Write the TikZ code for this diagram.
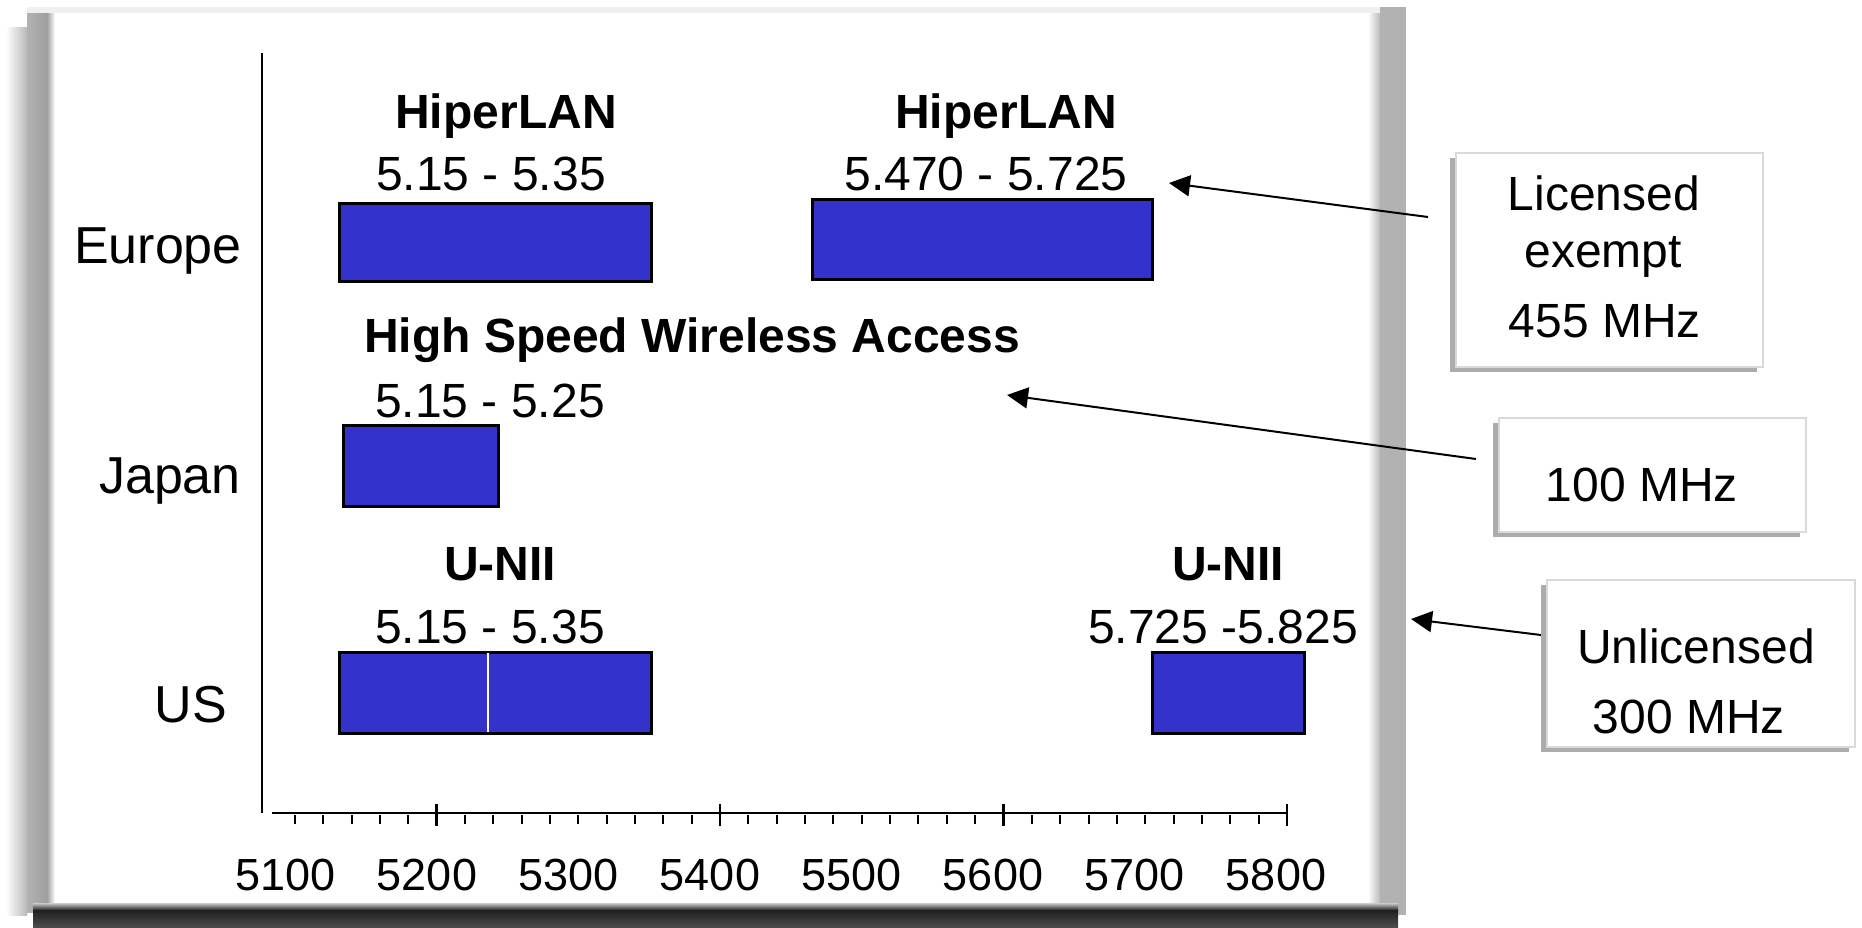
\documentclass[tikz,border=0pt]{standalone}
\usepackage{fontspec}
\setmainfont{Liberation Sans}
\usetikzlibrary{arrows.meta}
\definecolor{bandblue}{HTML}{3333CC}

\begin{document}
\begin{tikzpicture}[x=1pt,y=-1pt,
  bandbar/.style={draw=black, line width=3pt, fill=bandblue},
  axisline/.style={line width=2.5pt, black},
  rowlabel/.style={font=\fontsize{52}{60}\selectfont, anchor=base, inner sep=0pt},
  bandtitle/.style={font=\fontsize{48}{56}\selectfont\bfseries, anchor=base, inner sep=0pt},
  bandrange/.style={font=\fontsize{48}{56}\selectfont, anchor=base, inner sep=0pt},
  ticklabel/.style={font=\fontsize{45}{54}\selectfont, anchor=base, inner sep=0pt},
  notebox/.style={draw=gray!30, line width=1.5pt, fill=white},
  noteshadow/.style={fill=gray!65},
  notetext/.style={font=\fontsize{48}{56}\selectfont, anchor=base, inner sep=0pt},
  pointer/.style={line width=2pt, -{Triangle[length=21pt,width=21pt]}},
]
\useasboundingbox (0,0) rectangle (1862,927);
\fill[white] (0,0) rectangle (1862,927);

% slide frame with its bevelled shadow
\shade[left color=white, right color=gray!55] (6,27) rectangle (27,915);
\shade[left color=gray!60, right color=gray!75] (27,7) rectangle (47,912);
\shade[left color=gray!75, right color=white] (47,13) rectangle (55,910);
\fill[gray!12] (27,7) rectangle (1380,13);
\shade[left color=white, right color=gray!55] (1368,13) rectangle (1380,910);
\fill[gray!60] (1380,7) rectangle (1406,915);
\shade[top color=gray!40, bottom color=black!85] (33,903) rectangle (1398,910);
\shade[top color=black!88, bottom color=black!70] (33,910) rectangle (1398,927);

% axes
\coordinate (ytop) at (262,53);
\coordinate (ybot) at (262,813);
\coordinate (xstart) at (272,813);
\coordinate (xend) at (1287,813);
\draw[axisline] (ytop) -- (ybot);
\draw[axisline] (xstart) -- (xend);
\foreach \k in {0,...,35}
  \draw[line width=2pt] ({295+28.34*\k},815) -- ++(0,9);
\foreach \k in {5,15,25,35}
  \draw[line width=2.5pt] ({295+28.34*\k},804) -- ++(0,22);
\foreach \v [count=\i from 0] in {5100,5200,...,5800}
  \node[ticklabel] (t\v) at ({285.5+141.5*\i},890) {\v};

% row labels
\node[rowlabel] (eu) at (158,263) {Europe};
\node[rowlabel] (jp) at (170,493) {Japan};
\node[rowlabel] (us) at (191,722) {US};

% frequency bands
\draw[bandbar] (339,203) rectangle (651,281);
\draw[bandbar] (812,199) rectangle (1152,279);
\draw[bandbar] (343,425) rectangle (498,506);
\draw[bandbar] (339,652) rectangle (651,733);
\draw[white, line width=2pt] (488,653) -- (488,732);
\draw[bandbar] (1152,652) rectangle (1304,733);

% band captions
\node[bandtitle] (hl1) at (506,128) {HiperLAN};
\node[bandrange] (r1) at (491,190) {5.15 - 5.35};
\node[bandtitle] (hl2) at (1006,128) {HiperLAN};
\node[bandrange] (r2) at (986,190) {5.470 - 5.725};
\node[bandtitle] (hs) at (692,352) {High Speed Wireless Access};
\node[bandrange] (r3) at (490,417) {5.15 - 5.25};
\node[bandtitle] (un1) at (500,580) {U-NII};
\node[bandrange] (r4) at (490,643) {5.15 - 5.35};
\node[bandtitle] (un2) at (1228,580) {U-NII};
\node[bandrange] (r5) at (1223,643) {5.725 -5.825};

% callout boxes
\fill[noteshadow] (1450,158) rectangle (1757,372);
\draw[notebox] (1456,153) rectangle (1763,367);
\node[notetext] (lic1) at (1604,210) {Licensed};
\node[notetext] (lic2) at (1603,267) {exempt};
\node[notetext] (lic3) at (1605,337) {455 MHz};

\fill[noteshadow] (1493,423) rectangle (1800,537);
\draw[notebox] (1499,418) rectangle (1806,532);
\node[notetext] (jpn1) at (1642,501) {100 MHz};

\fill[noteshadow] (1541,585) rectangle (1849,752);
\draw[notebox] (1547,580) rectangle (1855,747);
\node[notetext] (unl1) at (1696,663) {Unlicensed};
\node[notetext] (unl2) at (1689,733) {300 MHz};

% pointers from the callouts
\coordinate (a1s) at (1428,217);
\coordinate (a1e) at (1169,183);
\coordinate (a2s) at (1476,459);
\coordinate (a2e) at (1007,395);
\coordinate (a3s) at (1541,635);
\coordinate (a3e) at (1411,619);
\draw[pointer] (a1s) -- (a1e);
\draw[pointer] (a2s) -- (a2e);
\draw[pointer] (a3s) -- (a3e);
\end{tikzpicture}
\end{document}
